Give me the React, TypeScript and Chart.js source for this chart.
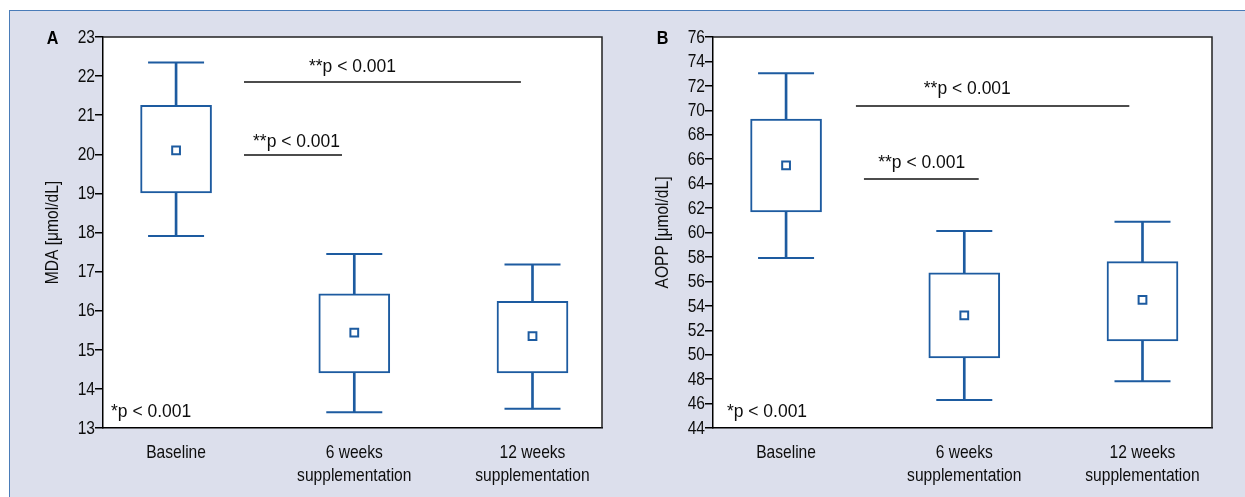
import React, { useEffect, useRef } from 'react';
import { Chart, registerables } from 'chart.js';

Chart.register(...registerables);

// ---------- data ----------
const categoryLabels: string[][] = [
  ['Baseline'],
  ['6 weeks', 'supplementation'],
  ['12 weeks', 'supplementation'],
];

// Panel A: MDA [µmol/dL]
const mdaMin = [17.91, 13.4, 13.49];
const mdaQ1 = [19.01, 14.41, 14.41];
const mdaMean = [20.1, 15.44, 15.35];
const mdaQ3 = [21.25, 16.43, 16.24];
const mdaMax = [22.35, 17.45, 17.18];
const mdaAxis = { min: 13, max: 23, step: 1 };

// Panel B: AOPP [µmol/dL]
const aoppMin = [57.91, 46.29, 47.82];
const aoppQ1 = [61.68, 49.73, 51.12];
const aoppMean = [65.5, 53.22, 54.48];
const aoppQ3 = [69.29, 56.69, 57.61];
const aoppMax = [73.03, 60.12, 60.88];
const aoppAxis = { min: 44, max: 76, step: 2 };

// significance annotations (data coordinates)
const pLabel = '**p < 0.001';
const overallLabel = '*p < 0.001';
const mdaBrackets = [
  { x0: 0.381, x1: 1.935, y: 21.85, lx: 0.99, ly: 22.23 },
  { x0: 0.381, x1: 0.931, y: 19.98, lx: 0.676, ly: 20.31 },
];
const mdaNote = { x: -0.365, y: 13.41 };
const aoppBrackets = [
  { x0: 0.392, x1: 1.926, y: 70.35, lx: 1.017, ly: 71.74 },
  { x0: 0.437, x1: 1.081, y: 64.38, lx: 0.761, ly: 65.69 },
];
const aoppNote = { x: -0.332, y: 45.33 };

// ---------- styles ----------
const FONT = "'Liberation Sans', Arial, sans-serif";
const FONT_SIZE = 19;
const NARROW = 0.82; // horizontal condensing for a Helvetica-Condensed look
const NOTE_NARROW = 0.92;
const BLUE = '#1d5ba0';
const TEXT = '#0d0d0d';

type Panel = {
  letter: string;
  title: string;
  mins: number[];
  q1s: number[];
  means: number[];
  q3s: number[];
  maxs: number[];
  axis: { min: number; max: number; step: number };
  brackets: { x0: number; x1: number; y: number; lx: number; ly: number }[];
  note: { x: number; y: number };
  axisWidth: number;
  padRight: number;
};

function narrowText(
  ctx: CanvasRenderingContext2D,
  text: string,
  x: number,
  y: number,
  align: CanvasTextAlign,
  sx: number,
  rotate = 0
) {
  ctx.save();
  ctx.translate(x, y);
  if (rotate) ctx.rotate(rotate);
  ctx.scale(sx, 1);
  ctx.textAlign = align;
  ctx.textBaseline = 'middle';
  ctx.fillText(text, 0, 0);
  ctx.restore();
}

function makeDecor(p: Panel) {
  return {
    id: 'decor' + p.letter,
    beforeDraw(chart: any) {
      const { ctx, chartArea: a } = chart;
      ctx.save();
      ctx.fillStyle = '#ffffff';
      ctx.fillRect(a.left, a.top, a.right - a.left, a.bottom - a.top);
      ctx.restore();
    },
    afterDraw(chart: any) {
      const { ctx, chartArea: a, scales } = chart;
      const xs = scales.x;
      const ys = scales.y;
      ctx.save();
      // top & right frame of plot area
      ctx.strokeStyle = '#222222';
      ctx.lineWidth = 1.5;
      ctx.beginPath();
      ctx.moveTo(a.left, a.top);
      ctx.lineTo(a.right, a.top);
      ctx.lineTo(a.right, a.bottom);
      ctx.stroke();

      ctx.fillStyle = TEXT;
      ctx.font = `${FONT_SIZE}px ${FONT}`;

      // y tick labels
      for (const t of ys.ticks) {
        narrowText(ctx, String(t.value), a.left - 8, ys.getPixelForValue(t.value) + 0.5, 'right', NARROW);
      }
      // x tick labels
      for (const t of xs.ticks) {
        const lines = categoryLabels[Math.round(t.value)] || [];
        lines.forEach((ln, k) => {
          narrowText(ctx, ln, xs.getPixelForValue(t.value), a.bottom + 25 + k * 23, 'center', NARROW);
        });
      }
      // y axis title
      narrowText(ctx, p.title, a.left - 50, (a.top + a.bottom) / 2, 'center', NARROW, -Math.PI / 2);

      // brackets
      ctx.strokeStyle = '#111111';
      ctx.lineWidth = 1.5;
      for (const b of p.brackets) {
        const y = ys.getPixelForValue(b.y);
        ctx.beginPath();
        ctx.moveTo(xs.getPixelForValue(b.x0), y);
        ctx.lineTo(xs.getPixelForValue(b.x1), y);
        ctx.stroke();
        narrowText(ctx, pLabel, xs.getPixelForValue(b.lx), ys.getPixelForValue(b.ly), 'center', NOTE_NARROW);
      }
      narrowText(ctx, overallLabel, xs.getPixelForValue(p.note.x), ys.getPixelForValue(p.note.y), 'left', NOTE_NARROW);

      // panel letter
      ctx.font = `bold ${FONT_SIZE}px ${FONT}`;
      ctx.fillStyle = '#000';
      narrowText(ctx, p.letter, a.left - 50.5, a.top + 1.5, 'center', 0.85);
      ctx.restore();
    },
  };
}

function buildConfig(p: Panel): any {
  const idx = p.means.map((_, i) => i);
  return {
    type: 'bar',
    data: {
      datasets: [
        {
          type: 'scatter',
          label: 'mean',
          data: idx.map((i) => ({ x: i, y: p.means[i] })),
          pointStyle: 'rect',
          pointRadius: 5.5,
          pointHoverRadius: 5.5,
          backgroundColor: '#ffffff',
          borderColor: BLUE,
          borderWidth: 2,
          order: -1,
        },
        {
          type: 'scatter',
          label: 'caps',
          data: [
            ...idx.map((i) => ({ x: i, y: p.maxs[i] })),
            ...idx.map((i) => ({ x: i, y: p.mins[i] })),
          ],
          pointStyle: 'line',
          pointRadius: 28,
          pointHoverRadius: 28,
          borderColor: BLUE,
          borderWidth: 2,
          order: 0,
        },
        {
          type: 'bar',
          label: 'box',
          data: idx.map((i) => ({ x: i, y: [p.q1s[i], p.q3s[i]] })),
          backgroundColor: '#ffffff',
          borderColor: BLUE,
          borderWidth: 2,
          borderSkipped: false,
          barThickness: 71,
          grouped: false,
          order: 1,
        },
        {
          type: 'bar',
          label: 'whisker',
          data: idx.map((i) => ({ x: i, y: [p.mins[i], p.maxs[i]] })),
          backgroundColor: BLUE,
          borderWidth: 0,
          barThickness: 2,
          grouped: false,
          order: 2,
        },
      ],
    },
    options: {
      animation: false,
      responsive: false,
      events: [],
      layout: { autoPadding: false, padding: { top: 37, right: p.padRight, left: 0, bottom: 0 } },
      plugins: { legend: { display: false }, tooltip: { enabled: false } },
      scales: {
        x: {
          type: 'linear',
          min: -0.41,
          max: 2.39,
          offset: false,
          afterBuildTicks: (s: any) => {
            s.ticks = idx.map((v) => ({ value: v }));
          },
          afterFit: (s: any) => {
            s.height = 69;
            s.paddingLeft = 0;
            s.paddingRight = 0;
          },
          grid: { display: false, drawTicks: false },
          border: { display: true, color: '#000', width: 1.5 },
          ticks: { display: false, autoSkip: false },
        },
        y: {
          type: 'linear',
          min: p.axis.min,
          max: p.axis.max,
          afterFit: (s: any) => {
            s.width = p.axisWidth;
            s.paddingTop = 0;
            s.paddingBottom = 0;
          },
          grid: {
            drawOnChartArea: false,
            drawTicks: true,
            tickLength: 8,
            color: '#000',
            lineWidth: 1.5,
          },
          border: { display: true, color: '#000', width: 1.5 },
          ticks: {
            display: false,
            autoSkip: false,
            stepSize: p.axis.step,
            maxTicksLimit: 50,
          },
        },
      },
    },
    plugins: [makeDecor(p)],
  };
}

function BoxPanel({ panel, width, height, left }: { panel: Panel; width: number; height: number; left: number }) {
  const ref = useRef<HTMLCanvasElement>(null);
  useEffect(() => {
    if (!ref.current) return;
    const chart = new Chart(ref.current, buildConfig(panel));
    return () => chart.destroy();
  }, [panel]);
  return (
    <canvas
      ref={ref}
      width={width}
      height={height}
      style={{ position: 'absolute', left, top: 0, width, height }}
    />
  );
}

const panelA: Panel = {
  letter: 'A',
  title: 'MDA [μmol/dL]',
  mins: mdaMin,
  q1s: mdaQ1,
  means: mdaMean,
  q3s: mdaQ3,
  maxs: mdaMax,
  axis: mdaAxis,
  brackets: mdaBrackets,
  note: mdaNote,
  axisWidth: 103,
  padRight: 18,
};

const panelB: Panel = {
  letter: 'B',
  title: 'AOPP [μmol/dL]',
  mins: aoppMin,
  q1s: aoppQ1,
  means: aoppMean,
  q3s: aoppQ3,
  maxs: aoppMax,
  axis: aoppAxis,
  brackets: aoppBrackets,
  note: aoppNote,
  axisWidth: 93,
  padRight: 33,
};

export default function App() {
  return (
    <div style={{ position: 'fixed', left: 0, top: 0, width: 1245, height: 497, background: '#ffffff', overflow: 'hidden' }}>
      <div
        style={{
          position: 'absolute',
          left: 9,
          top: 10,
          width: 1236,
          height: 487,
          boxSizing: 'border-box',
          background: '#dcdfec',
          borderTop: '1.5px solid #4a7cb8',
          borderLeft: '1.5px solid #4a7cb8',
        }}
      />
      <BoxPanel panel={panelA} width={620} height={497} left={0} />
      <BoxPanel panel={panelB} width={625} height={497} left={620} />
    </div>
  );
}
